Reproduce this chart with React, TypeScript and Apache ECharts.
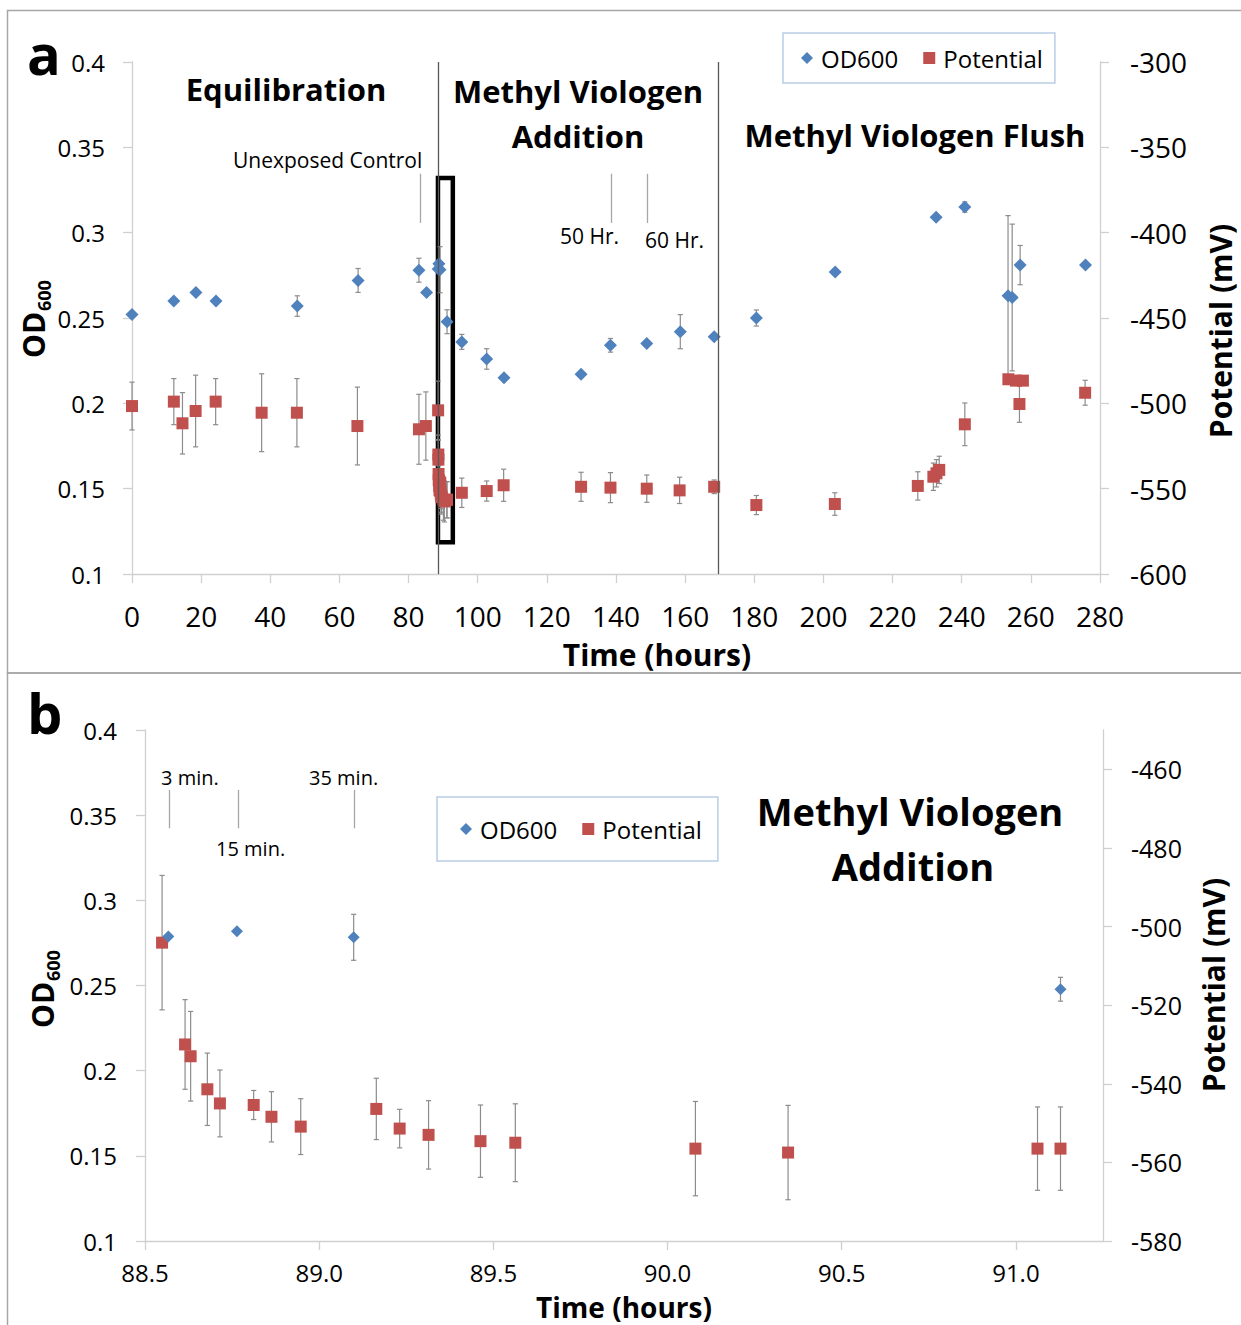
import React, { useEffect, useRef } from 'react';
import * as echarts from 'echarts';

const FONT = 'Open Sans';
const BLUE = '#4f81bd';
const RED = '#c0504d';
const AXIS = '#d0d0d0';
const ERR = '#8c8c8c';

// ---------- Panel a (0-280 h) ----------
const odTimeA = [0, 12.1, 18.5, 24.3, 47.8, 65.4, 83.0, 85.2, 95.4, 102.6, 107.6, 129.9, 138.4, 148.9, 158.6, 168.4, 180.6, 203.4, 232.6, 240.9, 253.4, 254.6, 256.9, 275.8];
const odValA = [0.252, 0.26, 0.265, 0.26, 0.257, 0.272, 0.278, 0.265, 0.236, 0.226, 0.215, 0.217, 0.234, 0.235, 0.242, 0.239, 0.25, 0.277, 0.309, 0.315, 0.263, 0.262, 0.281, 0.281];
const odErrA = [0, 0, 0, 0, 0.006, 0.007, 0.007, 0, 0.0044, 0.006, 0, 0, 0.004, 0, 0.01, 0, 0.0047, 0, 0, 0.003, 0.047, 0.043, 0.0115, 0];

const potTimeA = [0, 12.1, 14.6, 18.4, 24.2, 37.5, 47.7, 65.2, 83.0, 85.0, 95.4, 102.6, 107.5, 129.9, 138.4, 148.9, 158.4, 168.4, 180.6, 203.3, 227.3, 231.8, 232.7, 233.5, 240.9, 253.5, 255.7, 257.7, 256.7, 275.7];
const potValA = [-501.6, -499, -511.7, -504.5, -499, -505.5, -505.5, -513.3, -515.2, -513.3, -552.4, -551.4, -548, -548.9, -549.4, -550, -551, -548.9, -559.6, -559, -548.4, -543, -541, -539, -512.3, -485.9, -486.7, -486.7, -500.4, -493.8];
const potErrA = [14, 13.5, 18, 21, 13.5, 22.8, 20, 22.8, 20.5, 20, 8.6, 5.9, 9.4, 8.5, 8.8, 8, 7.7, 4, 5.6, 6.6, 8.3, 8, 8, 8, 12.5, 0, 0, 0, 10.7, 7.3];

// phase boundaries (h) and annotation markers (h)
const phaseLinesA = [88.6, 169.6];
const annotTimesA = [83.3, 138.5, 148.9];
const annotOdRangeA = [0.3057, 0.3345];
const boxA = { t0: 88.5, t1: 92.8, od0: 0.1186, od1: 0.332 };

// ---------- Panel b (88.5-91.25 h) ----------
const odTimeB = [88.567, 88.764, 89.099, 91.128];
const odValB = [0.2787, 0.2818, 0.2783, 0.2478];
const odErrB = [0, 0, 0.0135, 0.007];

const potTimeB = [88.549, 88.615, 88.631, 88.679, 88.715, 88.812, 88.863, 88.947, 89.164, 89.231, 89.314, 89.463, 89.563, 90.08, 90.346, 91.062, 91.128];
const potValB = [-504.1, -530.0, -533.0, -541.4, -545.0, -545.4, -548.4, -550.9, -546.4, -551.4, -553.0, -554.6, -555.0, -556.5, -557.5, -556.5, -556.5];
const potErrB = [17.1, 11.4, 11.4, 9.2, 8.5, 3.7, 6.4, 7.1, 7.8, 4.9, 8.7, 9.2, 9.9, 12.0, 12.0, 10.6, 10.6];

const annotTimesB = [88.57, 88.768, 89.1];
const annotOdRangeB = [0.3423, 0.3648];

// tick values
const xTicksB = [88.5, 89.0, 89.5, 90.0, 90.5, 91.0];
const potTicksB = [-580, -560, -540, -520, -500, -480, -460];

const zip = (t: number[], v: number[]) => t.map((x, i) => [x, v[i]]);
const errData = (t: number[], v: number[], e: number[]) =>
  t.map((x, i) => [x, v[i] - e[i], v[i] + e[i], e[i]]).filter((d) => d[3] > 0);

const errRender = (params: any, api: any) => {
  const x = api.value(0);
  const lo = api.value(1);
  const hi = api.value(2);
  const top = api.coord([x, hi]);
  const bot = api.coord([x, lo]);
  const c = 2.6;
  const st = () => ({ stroke: ERR, lineWidth: 1.2 });
  return {
    type: 'group',
    children: [
      { type: 'line', shape: { x1: top[0], y1: top[1], x2: bot[0], y2: bot[1] }, style: st() },
      { type: 'line', shape: { x1: top[0] - c, y1: top[1], x2: top[0] + c, y2: top[1] }, style: st() },
      { type: 'line', shape: { x1: bot[0] - c, y1: bot[1], x2: bot[0] + c, y2: bot[1] }, style: st() },
    ],
  };
};

const txt = (text: string, x: number, y: number, size: number, bold: boolean, align = 'left', rotation = 0) => ({
  type: 'text',
  x,
  y,
  rotation,
  silent: true,
  style: {
    text,
    fill: '#000',
    fontSize: size,
    lineHeight: Math.round(size * 0.9),
    fontWeight: bold ? 'bold' : 'normal',
    fontFamily: FONT,
    align,
    verticalAlign: 'middle',
  },
});

const odLabel = (x: number, y: number) => ({
  type: 'group',
  x,
  y,
  rotation: Math.PI / 2,
  silent: true,
  children: [
    { type: 'text', x: 0, y: 0, style: { text: 'OD', fill: '#000', fontSize: 30, lineHeight: 28, fontWeight: 'bold', fontFamily: FONT, align: 'left', verticalAlign: 'middle' } },
    { type: 'text', x: 47, y: 11, style: { text: '600', fill: '#000', fontSize: 18, lineHeight: 17, fontWeight: 'bold', fontFamily: FONT, align: 'left', verticalAlign: 'middle' } },
  ],
});

const axisCommon = (labelSize: number, margin: number) => ({
  type: 'value' as const,
  axisLine: { show: true, onZero: false, lineStyle: { color: AXIS, width: 1.3 } },
  axisTick: { show: true, inside: false, length: 9, lineStyle: { color: AXIS, width: 1.3 } },
  splitLine: { show: false },
  axisLabel: { fontSize: labelSize, lineHeight: 24, color: '#000', fontFamily: FONT, margin },
});

export default function App() {
  const ref = useRef<HTMLDivElement>(null);

  useEffect(() => {
    const chart = echarts.init(ref.current as HTMLDivElement, null, { renderer: 'svg' });

    const odAll = zip(odTimeA.concat(odTimeB), odValA.concat(odValB));
    const potAll = zip(potTimeA.concat(potTimeB), potValA.concat(potValB));
    const odErrAll = errData(odTimeA.concat(odTimeB), odValA.concat(odValB), odErrA.concat(odErrB));
    const potErrAll = errData(potTimeA.concat(potTimeB), potValA.concat(potValB), potErrA.concat(potErrB));

    const fmtOd = (v: number) => String(parseFloat(v.toFixed(2)));

    const option: any = {
      animation: false,
      backgroundColor: '#fff',
      textStyle: { fontFamily: FONT },
      grid: [
        { left: 132, top: 62, width: 968, height: 512 },
        { left: 145, top: 730, width: 958, height: 511 },
      ],
      xAxis: [
        (() => {
          const a: any = axisCommon(28, 30);
          return { ...a, gridIndex: 0, min: 0, max: 280, interval: 20 };
        })(),
        (() => {
          const a: any = axisCommon(24, 20);
          return {
            ...a,
            gridIndex: 1,
            min: 88.5,
            max: 91.25,
            interval: 0.5,
            axisLabel: { ...a.axisLabel, lineHeight: 22, customValues: xTicksB, formatter: (v: number) => v.toFixed(1) },
            axisTick: { ...a.axisTick, customValues: xTicksB },
          };
        })(),
      ],
      yAxis: [
        (() => {
          const a: any = axisCommon(24, 27);
          return { ...a, gridIndex: 0, position: 'left', min: 0.1, max: 0.4, interval: 0.05, axisLabel: { ...a.axisLabel, formatter: fmtOd } };
        })(),
        (() => {
          const a: any = axisCommon(28, 30);
          return { ...a, gridIndex: 0, position: 'right', min: -600, max: -300, interval: 50 };
        })(),
        (() => {
          const a: any = axisCommon(24, 28);
          return { ...a, gridIndex: 1, position: 'left', min: 0.1, max: 0.4, interval: 0.05, axisLabel: { ...a.axisLabel, formatter: fmtOd } };
        })(),
        (() => {
          const a: any = axisCommon(25, 28);
          return {
            ...a,
            gridIndex: 1,
            position: 'right',
            min: -580,
            max: -450,
            interval: 20,
            axisLabel: { ...a.axisLabel, customValues: potTicksB },
            axisTick: { ...a.axisTick, customValues: potTicksB },
          };
        })(),
      ],
      legend: [
        {
          left: 783,
          top: 33,
          orient: 'horizontal',
          padding: [13, 12, 13, 18],
          itemGap: 25,
          itemWidth: 12,
          itemHeight: 12,
          borderColor: '#b9cde5',
          borderWidth: 1.5,
          selectedMode: false,
          textStyle: { fontSize: 24, lineHeight: 24, color: '#000', fontFamily: FONT, padding: [0, 0, 0, 3] },
          data: [
            { name: 'OD600', icon: 'diamond' },
            { name: 'Potential', icon: 'rect' },
          ],
        },
        {
          left: 437,
          top: 797,
          orient: 'horizontal',
          padding: [20, 16, 20, 23],
          itemGap: 25,
          itemWidth: 12,
          itemHeight: 12,
          borderColor: '#b9cde5',
          borderWidth: 1.5,
          selectedMode: false,
          textStyle: { fontSize: 24, lineHeight: 24, color: '#000', fontFamily: FONT, padding: [0, 0, 0, 3] },
          data: [
            { name: 'OD600', icon: 'diamond' },
            { name: 'Potential', icon: 'rect' },
          ],
        },
      ],
      series: [
        // ---- panel a ----
        {
          name: 'odErrA',
          type: 'custom',
          xAxisIndex: 0,
          yAxisIndex: 0,
          renderItem: errRender,
          encode: { x: 0, y: [1, 2] },
          data: odErrAll,
          z: 2,
          silent: true,
        },
        {
          name: 'potErrA',
          type: 'custom',
          xAxisIndex: 0,
          yAxisIndex: 1,
          renderItem: errRender,
          encode: { x: 0, y: [1, 2] },
          data: potErrAll,
          z: 2,
          silent: true,
        },
        {
          name: 'Potential',
          type: 'scatter',
          xAxisIndex: 0,
          yAxisIndex: 1,
          symbol: 'rect',
          symbolSize: 12,
          itemStyle: { color: RED, opacity: 1 },
          data: potAll,
          z: 3,
          silent: true,
        },
        {
          name: 'OD600',
          type: 'scatter',
          xAxisIndex: 0,
          yAxisIndex: 0,
          symbol: 'diamond',
          symbolSize: 13,
          itemStyle: { color: BLUE, opacity: 1 },
          data: odAll,
          z: 4,
          silent: true,
          markLine: {
            silent: true,
            symbol: ['none', 'none'],
            label: { show: false },
            data: [
              ...phaseLinesA.map((t) => ({ xAxis: t, lineStyle: { color: '#595959', width: 1.3, type: 'solid' } })),
              ...annotTimesA.map((t) => [
                { coord: [t, annotOdRangeA[1]], lineStyle: { color: '#a6a6a6', width: 1.3, type: 'solid' } },
                { coord: [t, annotOdRangeA[0]] },
              ]),
            ],
          },
          markArea: {
            silent: true,
            label: { show: false },
            itemStyle: { color: 'rgba(0,0,0,0)', borderColor: '#000', borderWidth: 4.5 },
            data: [[{ coord: [boxA.t0, boxA.od1] }, { coord: [boxA.t1, boxA.od0] }]],
          },
        },
        // ---- panel b ----
        {
          name: 'odErrB',
          type: 'custom',
          xAxisIndex: 1,
          yAxisIndex: 2,
          renderItem: errRender,
          encode: { x: 0, y: [1, 2] },
          data: errData(odTimeB, odValB, odErrB),
          z: 2,
          silent: true,
        },
        {
          name: 'potErrB',
          type: 'custom',
          xAxisIndex: 1,
          yAxisIndex: 3,
          renderItem: errRender,
          encode: { x: 0, y: [1, 2] },
          data: errData(potTimeB, potValB, potErrB),
          z: 2,
          silent: true,
        },
        {
          name: 'Potential',
          type: 'scatter',
          xAxisIndex: 1,
          yAxisIndex: 3,
          symbol: 'rect',
          symbolSize: 12,
          itemStyle: { color: RED, opacity: 1 },
          data: zip(potTimeB, potValB),
          z: 3,
          silent: true,
        },
        {
          name: 'OD600',
          type: 'scatter',
          xAxisIndex: 1,
          yAxisIndex: 2,
          symbol: 'diamond',
          symbolSize: 12,
          itemStyle: { color: BLUE, opacity: 1 },
          data: zip(odTimeB, odValB),
          z: 4,
          silent: true,
          markLine: {
            silent: true,
            symbol: ['none', 'none'],
            label: { show: false },
            data: annotTimesB.map((t) => [
              { coord: [t, annotOdRangeB[1]], lineStyle: { color: '#a6a6a6', width: 1.3, type: 'solid' } },
              { coord: [t, annotOdRangeB[0]] },
            ]),
          },
        },
      ],
      graphic: [
        { type: 'rect', silent: true, z: -10, shape: { x: 7.5, y: 10.5, width: 1240, height: 662.5 }, style: { fill: 'none', stroke: '#a6a6a6', lineWidth: 1.5 } },
        { type: 'rect', silent: true, z: -10, shape: { x: 7.5, y: 673, width: 1240, height: 670 }, style: { fill: 'none', stroke: '#a6a6a6', lineWidth: 1.5 } },
        // panel a
        txt('a', 27, 53, 56, true),
        txt('Equilibration', 286, 89, 31, true, 'center'),
        txt('Methyl Viologen', 578, 91, 31, true, 'center'),
        txt('Addition', 578, 136, 31, true, 'center'),
        txt('Methyl Viologen Flush', 915, 135, 31, true, 'center'),
        txt('Unexposed Control', 233, 160, 21, false),
        txt('50 Hr.', 560, 236, 21, false),
        txt('60 Hr.', 645, 240, 21, false),
        txt('Time (hours)', 657, 654, 30, true, 'center'),
        txt('Potential (mV)', 1220, 331, 30, true, 'center', Math.PI / 2),
        odLabel(33, 358),
        // panel b
        txt('b', 27, 712, 56, true),
        txt('3 min.', 161, 777, 20, false),
        txt('35 min.', 309, 777, 20, false),
        txt('15 min.', 216, 848, 20, false),
        txt('Methyl Viologen', 910, 811, 38, true, 'center'),
        txt('Addition', 913, 866, 38, true, 'center'),
        txt('Time (hours)', 624, 1307, 28, true, 'center'),
        txt('Potential (mV)', 1213, 985, 30, true, 'center', Math.PI / 2),
        odLabel(42, 1028),
      ],
    };

    chart.setOption(option);
    return () => chart.dispose();
  }, []);

  return (
    <div
      ref={ref}
      style={{ position: 'absolute', left: 0, top: 0, width: 1241, height: 1325, background: '#fff' }}
    />
  );
}
